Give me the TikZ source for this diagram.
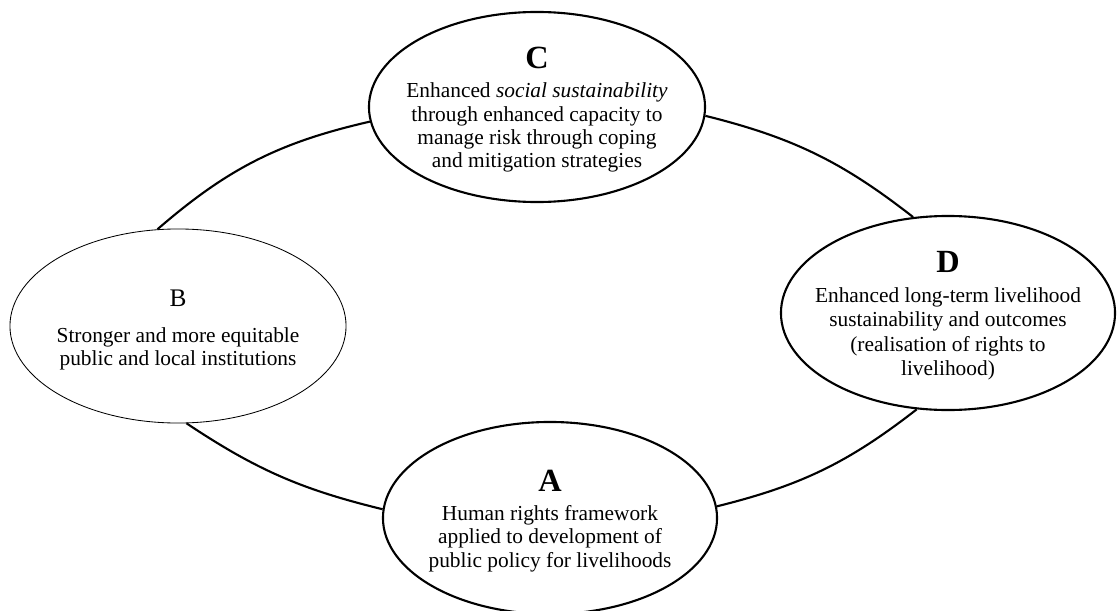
\documentclass[tikz,border=0pt]{standalone}
\usepackage{fontspec}
\setmainfont{Liberation Serif}
\usepackage{tikz}
\usetikzlibrary{shapes.geometric}

\begin{document}
\begin{tikzpicture}[x=0.025cm,y=-0.025cm,
  stage/.style={ellipse,draw,line width=1.5pt,inner sep=0pt},
  weakstage/.style={stage,line width=0.6pt},
  stagetext/.style={align=center,inner sep=0pt,font=\fontsize{15.2}{16.6}\selectfont},
  cycle/.style={line width=1.5pt}]
  \useasboundingbox (0,0) rectangle (1117,611);

  \node[stage,minimum width=8.4cm,minimum height=4.75cm,
    label={[stagetext,yshift=-2pt]center:{{\fontsize{23}{23}\selectfont\textbf{C}}\\[4pt]
     Enhanced \textit{social sustainability}\\
     through enhanced capacity to\\
     manage risk through coping\\
     and mitigation strategies}}] (C) at (537,107) {};
  \node[stage,minimum width=8.35cm,minimum height=4.85cm,
    label={[stagetext,font=\fontsize{15.2}{17.2}\selectfont,yshift=-2pt]center:{{\fontsize{23}{23}\selectfont\textbf{D}}\\[4pt]
     Enhanced long-term livelihood\\
     sustainability and outcomes\\
     (realisation of rights to\\
     livelihood)}}] (D) at (948,313) {};
  \node[weakstage,minimum width=8.4cm,minimum height=4.85cm,
    label={[stagetext,yshift=-3pt]center:{{\fontsize{18}{18}\selectfont B}\\[8.5pt]
     Stronger and more equitable\\
     public and local institutions}}] (B) at (178,326) {};
  \node[stage,minimum width=8.35cm,minimum height=4.8cm,
    label={[stagetext,yshift=-2pt]center:{{\fontsize{23}{23}\selectfont\textbf{A}}\\[4pt]
     Human rights framework\\
     applied to development of\\
     public policy for livelihoods}}] (A) at (550,518) {};

  \path[cycle] (B.102) edge[bend left=14] (C.185)
        (C.357) edge[bend left=12] (D.110)
        (D.252) edge[bend left=12] (A.4)
        (A.177) edge[bend left=10] (B.275);
\end{tikzpicture}
\end{document}
